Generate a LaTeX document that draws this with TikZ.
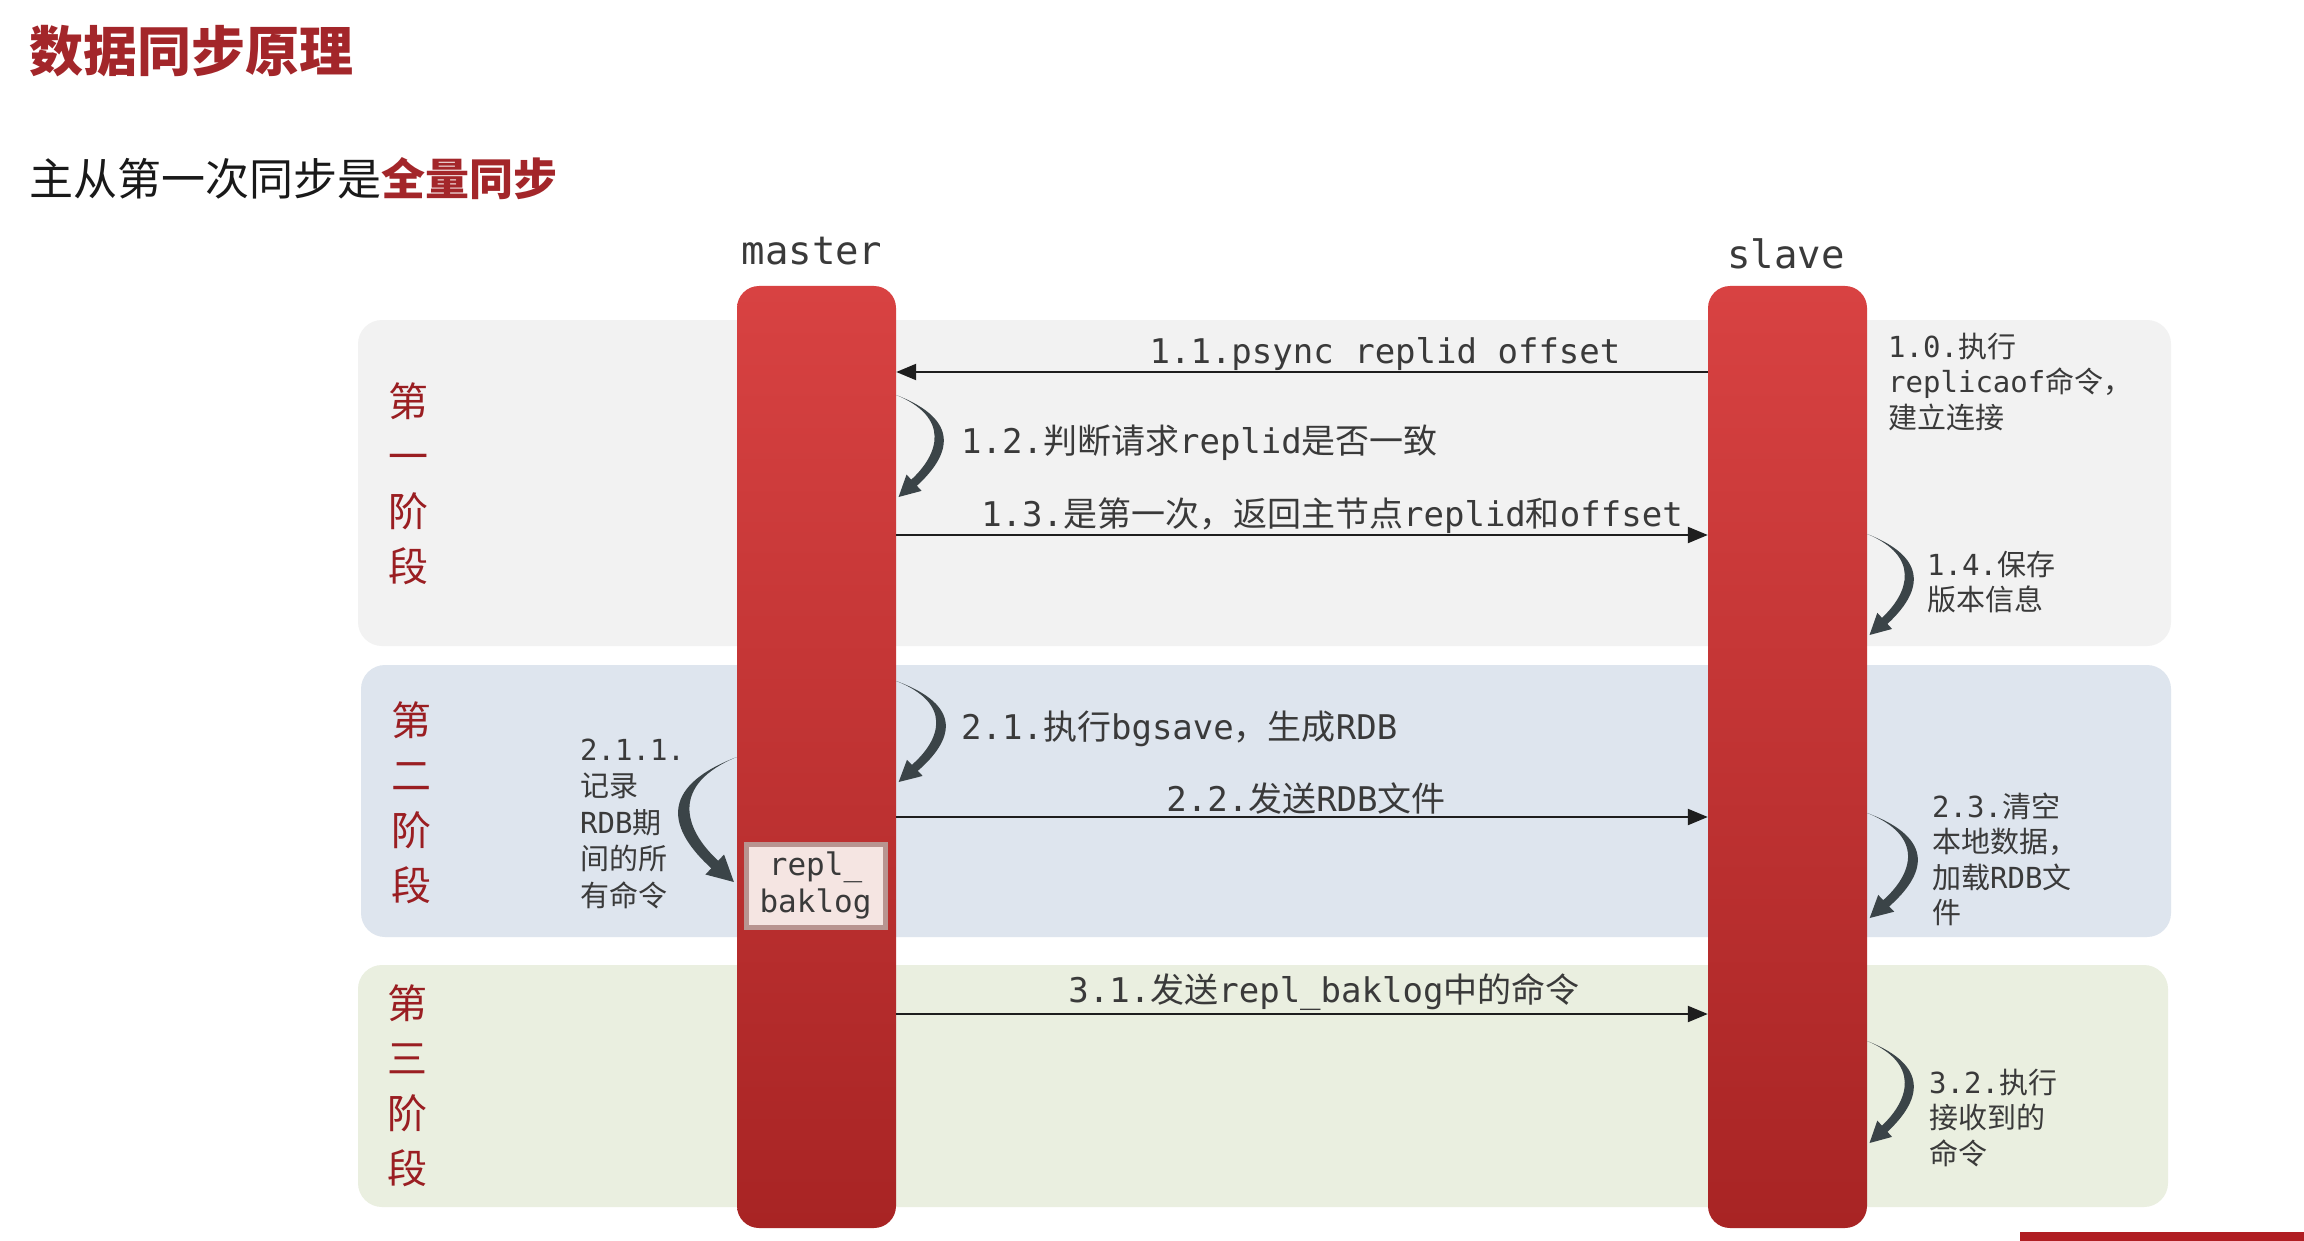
\documentclass[tikz,border=0pt]{standalone}
\usepackage{fontspec}
\setmonofont{DejaVu Sans Mono}
\newfontfamily\cjk{Noto Sans CJK SC}
\usetikzlibrary{arrows.meta}
\definecolor{titlered}{HTML}{A3262A}
\definecolor{phasered}{HTML}{9A1E22}
\definecolor{txt}{HTML}{3A3A3A}
\definecolor{arrowcol}{HTML}{1E1E1E}
\definecolor{loopcol}{HTML}{3B4448}
\definecolor{pone}{HTML}{F2F2F2}
\definecolor{ptwo}{HTML}{DEE5EE}
\definecolor{pthree}{HTML}{EAEFE0}
\definecolor{boxfill}{HTML}{F5E5E2}
\definecolor{boxedge}{HTML}{B89490}
\definecolor{barTop}{HTML}{D84242}
\definecolor{barBot}{HTML}{A82424}
\definecolor{footred}{HTML}{B01E23}
\newcommand\zh[1]{{\cjk #1}}
\newcommand\selfloop[2]{%
 \fill[loopcol] (0,0) .. controls ({1.4*#1},{0.25*#2}) and ({1.15*#1},{0.59*#2}) .. ({0.44*#1},{0.89*#2})
  -- ({0.54*#1},{0.94*#2}) -- ({0.05*#1},{#2}) -- ({0.22*#1},{0.78*#2}) -- ({0.32*#1},{0.83*#2})
  .. controls ({0.92*#1},{0.575*#2}) and ({1.15*#1},{0.22*#2}) .. (0,0) -- cycle;}
\tikzset{
 arrowlbl/.style={inner sep=0, text=txt, font=\ttfamily\fontsize{34}{40}\selectfont},
 sidelbl/.style={inner sep=0, text=txt, font=\ttfamily\fontsize{29}{35.5}\selectfont, align=left, anchor=north west, execute at begin node=\rule{0pt}{26pt}},
 stagelbl/.style={inner sep=0, text=phasered, font=\cjk\fontsize{40}{55}\selectfont, align=center},
 msgarrow/.style={draw=arrowcol, line width=2.2pt, -{Triangle[length=20pt,width=16pt]}},
 lifebar/.style={rounded corners=22pt, minimum width=159pt, minimum height=942pt, top color=barTop, bottom color=barBot, draw=none, inner sep=0},
 stagepanel/.style={rounded corners=24pt, draw=none, inner sep=0}
}
\begin{document}
\begin{tikzpicture}[x=1pt,y=-1pt]
\useasboundingbox (0,0) rectangle (2304,1241);
\fill[white] (0,0) rectangle (2304,1241);
% panels
\node[stagepanel, fill=pone, minimum width=1813pt, minimum height=326pt] (stage1) at (1264.5,483) {};
\node[stagepanel, fill=ptwo, minimum width=1810pt, minimum height=272pt] (stage2) at (1266,801) {};
\node[stagepanel, fill=pthree, minimum width=1810pt, minimum height=242pt] (stage3) at (1263,1086) {};
% bars
\node[lifebar] (master) at (816.5,757) {};
\node[lifebar] (slave) at (1787.5,757) {};
\node[draw=boxedge, line width=5pt, fill=boxfill, minimum width=139pt, minimum height=83pt, inner sep=0, align=center, font=\ttfamily\fontsize{31}{37}\selectfont, text=txt] (baklog) at (815.5,885.5) {repl\_\\baklog};
% titles
\node[anchor=west, inner sep=0, font=\cjk\bfseries\fontsize{54}{60}\selectfont, text=titlered] (title) at (29,51) {数据同步原理};
\node[anchor=west, inner sep=0, font=\cjk\fontsize{44}{50}\selectfont, text=black!90] (subtitle) at (29,179) {主从第一次同步是{\bfseries\color{titlered}全量同步}};
\node[anchor=base, inner sep=0, font=\ttfamily\fontsize{39}{45}\selectfont, text=txt] (mlabel) at (812,265) {master};
\node[anchor=base, inner sep=0, font=\ttfamily\fontsize{39}{45}\selectfont, text=txt] (slabel) at (1786,269) {slave};
% stage labels
\node[stagelbl] (s1) at (408,483.5) {第\\一\\阶\\段};
\node[stagelbl] (s2) at (411,803) {第\\二\\阶\\段};
\node[stagelbl] (s3) at (407,1086) {第\\三\\阶\\段};
% self loops
\begin{scope}[shift={(master.east |- 0,395)}]\selfloop{47}{102}\end{scope}
\begin{scope}[shift={(master.east |- 0,681)}]\selfloop{49}{101}\end{scope}
\begin{scope}[shift={(master.west |- 0,757)}, xscale=-1]\selfloop{58}{125}\end{scope}
\begin{scope}[shift={(slave.east |- 0,534)}]\selfloop{46}{101}\end{scope}
\begin{scope}[shift={(slave.east |- 0,813)}]\selfloop{50}{105}\end{scope}
\begin{scope}[shift={(slave.east |- 0,1041)}]\selfloop{46}{102}\end{scope}
% messages
\draw[msgarrow] (slave.west |- 0,372) -- (master.east |- 0,372);
\draw[msgarrow] (master.east |- 0,535) -- (slave.west |- 0,535);
\draw[msgarrow] (master.east |- 0,817) -- (slave.west |- 0,817);
\draw[msgarrow] (master.east |- 0,1014) -- (slave.west |- 0,1014);
% message labels
\node[arrowlbl, anchor=base] (l11) at (1385,363) {1.1.psync replid offset};
\node[arrowlbl, anchor=base west] (l12) at (961,453) {1.2.\zh{判断请求}replid\zh{是否一致}};
\node[arrowlbl, anchor=base] (l13) at (1332,526) {1.3.\zh{是第一次，返回主节点}replid\zh{和}offset};
\node[arrowlbl, anchor=base west] (l21) at (961,739) {2.1.\zh{执行}bgsave\zh{，生成}RDB};
\node[arrowlbl, anchor=base] (l22) at (1306,811) {2.2.\zh{发送}RDB\zh{文件}};
\node[arrowlbl, anchor=base] (l31) at (1324,1002) {3.1.\zh{发送}repl\_baklog\zh{中的命令}};
% side labels
\node[sidelbl] (l10) at (1888,332.5) {1.0.\zh{执行}\\replicaof\zh{命令，}\\\zh{建立连接}};
\node[sidelbl] (l14) at (1927,550.5) {1.4.\zh{保存}\\\zh{版本信息}};
\node[sidelbl, font=\ttfamily\fontsize{29}{36.5}\selectfont] (l211) at (580,738.5) {2.1.1.\\\zh{记录}\\RDB\zh{期}\\\zh{间的所}\\\zh{有命令}};
\node[sidelbl] (l23) at (1932,792.5) {2.3.\zh{清空}\\\zh{本地数据，}\\\zh{加载}RDB\zh{文}\\\zh{件}};
\node[sidelbl] (l32) at (1929,1068.5) {3.2.\zh{执行}\\\zh{接收到的}\\\zh{命令}};
% footer bar
\fill[footred] (2020,1232) rectangle (2304,1241);
\end{tikzpicture}
\end{document}
